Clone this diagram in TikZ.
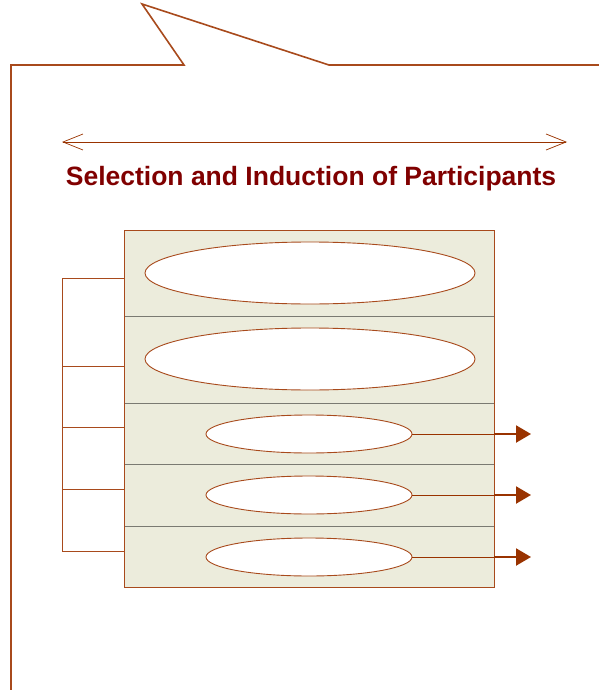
\documentclass[tikz,border=0pt]{standalone}
\usepackage{fontspec}
\setmainfont{Liberation Sans}
\usetikzlibrary{shapes.geometric,arrows.meta}
\definecolor{brn}{HTML}{A84A1C}
\definecolor{arr}{HTML}{993300}
\definecolor{ttl}{HTML}{800000}
\definecolor{bg}{HTML}{ECECDC}
\definecolor{div}{HTML}{7A7A72}
\tikzset{
  oval/.style={ellipse,draw=brn,fill=white,line width=0.9pt,inner sep=0pt},
  bigoval/.style={oval,minimum width=330pt,minimum height=62pt},
  smalloval/.style={oval,minimum width=206pt,minimum height=38pt},
  brline/.style={draw=brn,line width=1pt},
  outarrow/.style={draw=arr,line width=2.2pt,-{Triangle[length=15pt,width=17pt]}},
  thinarrow/.style={draw=arr,line width=1pt}
}
\begin{document}
\begin{tikzpicture}[x=1pt,y=-1pt]
\useasboundingbox (0,0) rectangle (599,690);
% callout outline
\draw[brline,line width=1.6pt,line join=miter] (11,690) -- (11,65) -- (184,65) -- (142,4) -- (329,65) -- (599,65);
% double arrow
\coordinate (la) at (62,142);
\coordinate (ra) at (567,142);
\draw[draw=arr,line width=0.9pt,{Straight Barb[length=20pt,width=16pt,line width=0.7pt]}-{Straight Barb[length=20pt,width=16pt,line width=0.7pt]}] (la) -- (ra);
% title
\node[text=ttl,font=\bfseries\fontsize{26.5}{30}\selectfont,inner sep=0pt] (title) at (311,179) {Selection and Induction of Participants};
% box
\node[draw=brn,fill=bg,line width=1pt,minimum width=370pt,minimum height=357pt,inner sep=0pt,anchor=north west] (box) at (124,230) {};
\foreach \yy in {316,403,464,526}
  \draw[div,line width=0.9pt] (124.5,\yy) -- (493.5,\yy);
% ellipses
\node[bigoval] (e1) at (310,273) {};
\node[bigoval] (e2) at (310,359) {};
\node[smalloval] (e3) at (309,434) {};
\node[smalloval] (e4) at (309,495) {};
\node[smalloval] (e5) at (309,557) {};
% outgoing arrows
\foreach \n/\yy in {e3/434,e4/495,e5/557}{
  \coordinate (m\n) at (494,\yy);
  \coordinate (t\n) at (531,\yy);
  \draw[thinarrow] (\n.east) -- (m\n);
  \draw[outarrow] (m\n) -- (t\n);
}
% left bracket
\coordinate (b1) at (62,278);
\coordinate (b2) at (62,366);
\coordinate (b3) at (62,427);
\coordinate (b4) at (62,489);
\coordinate (b5) at (62,551);
\draw[brline] (b1) -- (b5);
\foreach \i/\yy in {1/278,2/366,3/427,4/489,5/551}
  \draw[brline] (b\i) -- (box.west |- b\i);
\end{tikzpicture}
\end{document}
